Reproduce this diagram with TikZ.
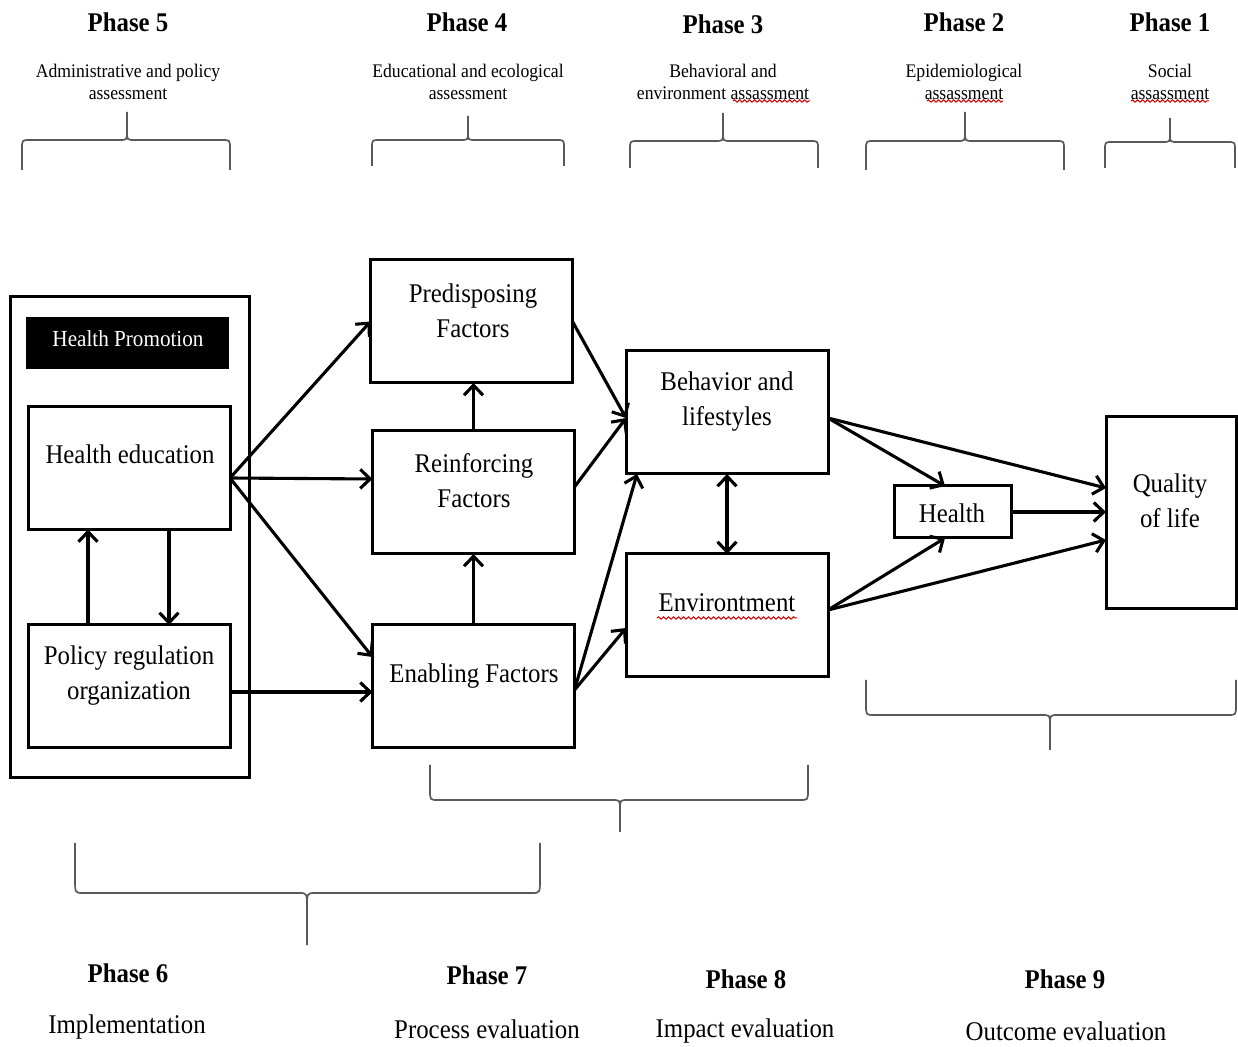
\documentclass[tikz,border=0pt]{standalone}
\usepackage{fontspec}
\setmainfont{Liberation Serif}[FakeStretch=0.92]
\usetikzlibrary{arrows.meta,decorations.pathmorphing}
\newcommand{\phasebrace}[6]{%
  \draw[brc] (#1,#3) -- (#1,{#4+0.3*(#3-#4)}) .. controls (#1,#4) .. (#1+8,#4)
    -- (#5-8,#4) .. controls (#5,#4) .. (#5,{#4+0.3*(#6-#4)}) -- (#5,#6)
    (#5,{#4+0.3*(#6-#4)}) .. controls (#5,#4) .. (#5+8,#4)
    -- (#2-8,#4) .. controls (#2,#4) .. (#2,{#4+0.3*(#3-#4)}) -- (#2,#3);}
\begin{document}
\begin{tikzpicture}[x=0.5pt,y=-0.5pt,
  >={Straight Barb[length=5pt,width=9.5pt]},
  box/.style={draw,line width=1.5pt,minimum width=101pt,minimum height=61.5pt,inner sep=0pt,outer sep=0pt},
  txt/.style={font=\fontsize{13.5}{17.5}\selectfont,align=center,inner sep=0pt},
  ph/.style={font=\fontsize{13.5}{16}\selectfont\bfseries,inner sep=0pt},
  sub/.style={font=\fontsize{9.6}{11}\selectfont,align=center,inner sep=0pt},
  arr/.style={line width=1.55pt,->},
  dbl/.style={line width=1.55pt,<->},
  brc/.style={line width=0.85pt,draw=black!65},
  sq/.style={red!85!black,line width=0.5pt,decorate,decoration={snake,amplitude=0.6pt,segment length=2.5pt}}]
\useasboundingbox (0,0) rectangle (1238,1047);

% ---- top headings
\node[ph] (p5) at (128,22) {Phase 5};
\node[sub] (s5) at (128,82) {Administrative and policy\\assessment};
\node[ph] (p4) at (467,22) {Phase 4};
\node[sub] (s4) at (468,82) {Educational and ecological\\assessment};
\node[ph] (p3) at (723,24) {Phase 3};
\node[sub] (s3) at (723,82) {Behavioral and\\environment assassment};
\node[ph] (p2) at (964,22) {Phase 2};
\node[sub] (s2) at (964,82) {Epidemiological\\assassment};
\node[ph] (p1) at (1170,22) {Phase 1};
\node[sub] (s1) at (1170,82) {Social\\assassment};
\draw[sq] (733,101) -- (810,101);
\draw[sq] (927,101) -- (1003,101);
\draw[sq] (1131,101) -- (1209,101);

% ---- top braces
\phasebrace{22}{230}{170}{140}{127}{112}
\phasebrace{372}{564}{166}{140}{468}{116}
\phasebrace{630}{818}{168}{141}{723}{113}
\phasebrace{866}{1064}{170}{141}{965}{112}
\phasebrace{1105}{1235}{168}{142}{1170}{118}

% ---- boxes
\node[box,minimum width=119.5pt,minimum height=240.5pt] (outer) at (129.5,537.5) {};
\node[fill=black,minimum width=101.5pt,minimum height=26pt,inner sep=0pt,outer sep=0pt] (hp) at (127.5,343) {};
\node[txt,text=white,font=\fontsize{11.5}{14}\selectfont] (hpt) at (128,339) {Health Promotion};
\node[box] (he) at (129,468) {};
\node[txt] (het) at (130,454) {Health education};
\node[box] (po) at (129,686.5) {};
\node[txt] (pot) at (129,676) {Policy regulation\\organization};
\node[box] (pre) at (471.5,321.5) {};
\node[txt] (pret) at (473,311) {Predisposing\\Factors};
\node[box] (rf) at (473.5,492.5) {};
\node[txt] (rft) at (474,481) {Reinforcing\\Factors};
\node[box] (en) at (473.5,686.5) {};
\node[txt] (ent) at (474,676) {Enabling Factors};
\node[box] (beh) at (727,412.5) {};
\node[txt] (beht) at (727,402) {Behavior and\\lifestyles};
\node[box] (env) at (727,615.5) {};
\node[txt] (envt) at (727,603) {Environtment};
\draw[sq] (657,618) -- (797,618);
\node[box,minimum width=58.5pt,minimum height=26pt] (hl) at (952.5,512) {};
\node[txt] (hlt) at (952,513) {Health};
\node[box,minimum width=65pt,minimum height=96pt] (qol) at (1171,513) {};
\node[txt] (qolt) at (1170,501) {Quality\\of life};

% ---- connectors
\draw[arr] ([yshift=-5pt]he.east) -- (pre.west);
\draw[arr] ([yshift=-5pt]he.east) -- ([yshift=6.75pt]rf.west);
\draw[arr] ([yshift=-5pt]he.east) -- ([yshift=14.75pt]en.west);
\draw[arr] ([yshift=-2.75pt]po.east) -- ([yshift=-2.75pt]en.west);
\draw[arr] ([xshift=-20.5pt]po.north) -- ([xshift=-20.5pt]he.south);
\draw[arr] ([xshift=20pt]he.south) -- ([xshift=20pt]po.north);
\draw[arr] (rf.north) -- (rf.north |- pre.south);
\draw[arr] (en.north) -- (rf.south);
\draw[arr] (pre.east) -- ([yshift=-2.75pt]beh.west);
\draw[arr] ([yshift=2.75pt]rf.east) -- ([yshift=-2.75pt]beh.west);
\draw[arr] ([yshift=-1.75pt]en.east) -- ([xshift=5.5pt]beh.south west);
\draw[arr] ([yshift=-1.75pt]en.east) -- ([yshift=-6.25pt]env.west);
\draw[dbl] (beh.south) -- (env.north);
\draw[arr] ([yshift=-2.75pt]beh.east) -- ([xshift=-3.75pt]hl.north);
\draw[arr] ([yshift=-2.75pt]beh.east) -- ([yshift=12.5pt]qol.west);
\draw[arr] ([yshift=2.75pt]env.east) -- ([xshift=-3.75pt]hl.south);
\draw[arr] ([yshift=2.75pt]env.east) -- ([yshift=-13.5pt]qol.west);
\draw[arr] (hl.east) -- (hl.east -| qol.west);

% ---- bottom braces
\phasebrace{866}{1236}{680}{715}{1050}{750}
\phasebrace{430}{808}{765}{800}{620}{832}
\phasebrace{75}{540}{843}{893}{307}{945}

% ---- bottom headings
\node[ph] (p6) at (128,973) {Phase 6};
\node[txt] (l6) at (127,1027) {Implementation};
\node[ph] (p7) at (487,975) {Phase 7};
\node[txt] (l7) at (487,1029) {Process evaluation};
\node[ph] (p8) at (746,979) {Phase 8};
\node[txt] (l8) at (745,1031) {Impact evaluation};
\node[ph] (p9) at (1065,979) {Phase 9};
\node[txt] (l9) at (1066,1031) {Outcome evaluation};
\end{tikzpicture}
\end{document}
